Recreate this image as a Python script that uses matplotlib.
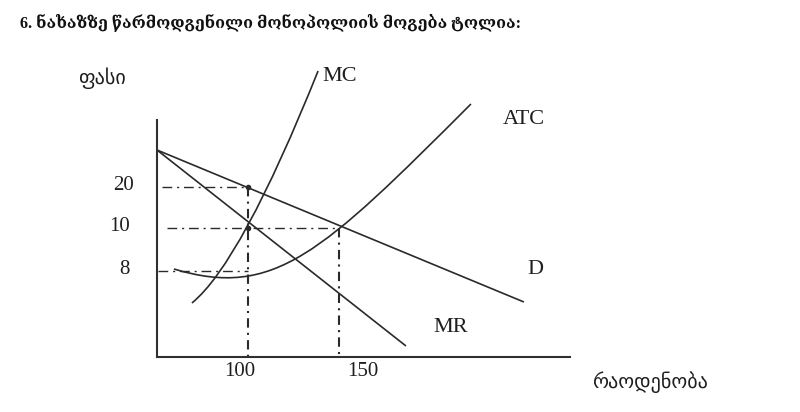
import matplotlib
matplotlib.use("Agg")
import matplotlib.pyplot as plt
from matplotlib.path import Path
from matplotlib.patches import PathPatch

# ---------------- data ----------------
title = "6. ნახაზზე წარმოდგენილი მონოპოლიის მოგება ტოლია:"
y_label = "ფასი"
x_label = "რაოდენობა"

q_ticks = [100, 150]                 # quantity marks
q_tick_labels = ["100", "150"]
price_labels = ["20", "10", "8"]     # price marks (diagram is not to scale)
price_pos = [17.0, 12.9, 8.6]        # vertical positions of those price marks

demand_q = [50, 251.6]
demand_p = [20.7, 5.5]
mr_q = [50, 186.8]
mr_p = [20.7, 1.1]
mc_ctrl_q = [69.2, 96.2, 138.5]           # quadratic Bezier control points
mc_ctrl_p = [5.4, 9.4, 28.6]
atc_ctrl_q = [59.3, 114.3, 140.1, 222.5]  # cubic Bezier control points
atc_ctrl_p = [8.8, 5.8, 10.3, 25.3]

curve_names = ["MC", "ATC", "D", "MR"]
curve_label_q = [140.7, 251.4, 257.7, 211.5]
curve_label_p = [28.1, 23.8, 8.7, 3.0]

# ---------------- figure ----------------
W, H = 800, 412
fig = plt.figure(figsize=(W / 100, H / 100), dpi=100)
fig.patch.set_facecolor("white")

x0, x1, yb, yt = 157, 570, 357, 120
ax = fig.add_axes([x0 / W, 1 - yb / H, (x1 - x0) / W, (yb - yt) / H])
ax.set_xlim(50, 50 + (x1 - x0) / 1.82)
ax.set_ylim(0, (yb - yt) / 10)
ax.set_facecolor("none")
for s in ("top", "right"):
    ax.spines[s].set_visible(False)
for s in ("left", "bottom"):
    ax.spines[s].set_linewidth(1.5)
    ax.spines[s].set_color("#303030")
ax.set_xticks([])
ax.set_yticks([])

LC = "#2a2a2a"
TC = "#1e1e1e"
serif = ["Liberation Serif", "DejaVu Serif"]

# straight curves
ax.plot(demand_q, demand_p, color=LC, lw=1.2, clip_on=False, solid_capstyle="butt")
ax.plot(mr_q, mr_p, color=LC, lw=1.2, clip_on=False, solid_capstyle="butt")

# MC (quadratic Bezier)
mc_path = Path(list(zip(mc_ctrl_q, mc_ctrl_p)), [Path.MOVETO, Path.CURVE3, Path.CURVE3])
ax.add_patch(PathPatch(mc_path, fill=False, ec=LC, lw=1.2, clip_on=False))
# ATC (cubic Bezier)
atc_path = Path(list(zip(atc_ctrl_q, atc_ctrl_p)),
                [Path.MOVETO, Path.CURVE4, Path.CURVE4, Path.CURVE4])
ax.add_patch(PathPatch(atc_path, fill=False, ec=LC, lw=1.2, clip_on=False))

# dash-dot guides
hstyle = (0, (7, 3.5, 1.5, 3.5))
vstyle = (0, (4.5, 2.5, 1.0, 2.5))
ax.plot([52.5, q_ticks[0]], [price_pos[0]] * 2, color=LC, lw=1.0, ls=hstyle)
ax.plot([55.3, q_ticks[1]], [price_pos[1]] * 2, color=LC, lw=1.0, ls=hstyle)
ax.plot([50.6, q_ticks[0]], [price_pos[2]] * 2, color=LC, lw=1.0, ls=hstyle)
ax.plot([q_ticks[0]] * 2, [price_pos[0], 0], color=LC, lw=1.5, ls=vstyle)
ax.plot([q_ticks[1]] * 2, [price_pos[1], 0], color=LC, lw=1.5, ls=vstyle)
ax.plot([q_ticks[0], q_ticks[0]], [price_pos[0], price_pos[1]], ls="none",
        marker="o", ms=3, color=LC)

# tick labels
lab_q = [95.6, 163.0]
for q, t in zip(lab_q, q_tick_labels):
    ax.text(q, -1.45, t, ha="center", va="center", fontsize=15,
            family=serif, color=TC)
lab_x = [124, 120, 124]
for px, p, t in zip(lab_x, price_pos, price_labels):
    ax.text(50 + (px - x0) / 1.82, p + 0.15, t, ha="center", va="center",
            fontsize=15, family=serif, color=TC, clip_on=False)

# curve names
for n, q, p in zip(curve_names, curve_label_q, curve_label_p):
    ax.text(q, p, n, ha="left" if n == "MC" else "center", va="center",
            fontsize=16, family=serif, color=TC, clip_on=False)

# axis names
fig.text(101.5 / W, 1 - 78.3 / H, y_label, ha="center", va="center",
         fontsize=14.5, family=["DejaVu Sans"], color=TC)
fig.text(649.5 / W, 1 - 381.7 / H, x_label, ha="center", va="center",
         fontsize=14.5, family=["DejaVu Sans"], color=TC)

# title
fig.text(20 / W, 1 - 22 / H, title, ha="left", va="center", fontsize=11.6,
         fontweight="bold", family=serif, color="#111")

fig.savefig("out.png", dpi=100, facecolor="white")
